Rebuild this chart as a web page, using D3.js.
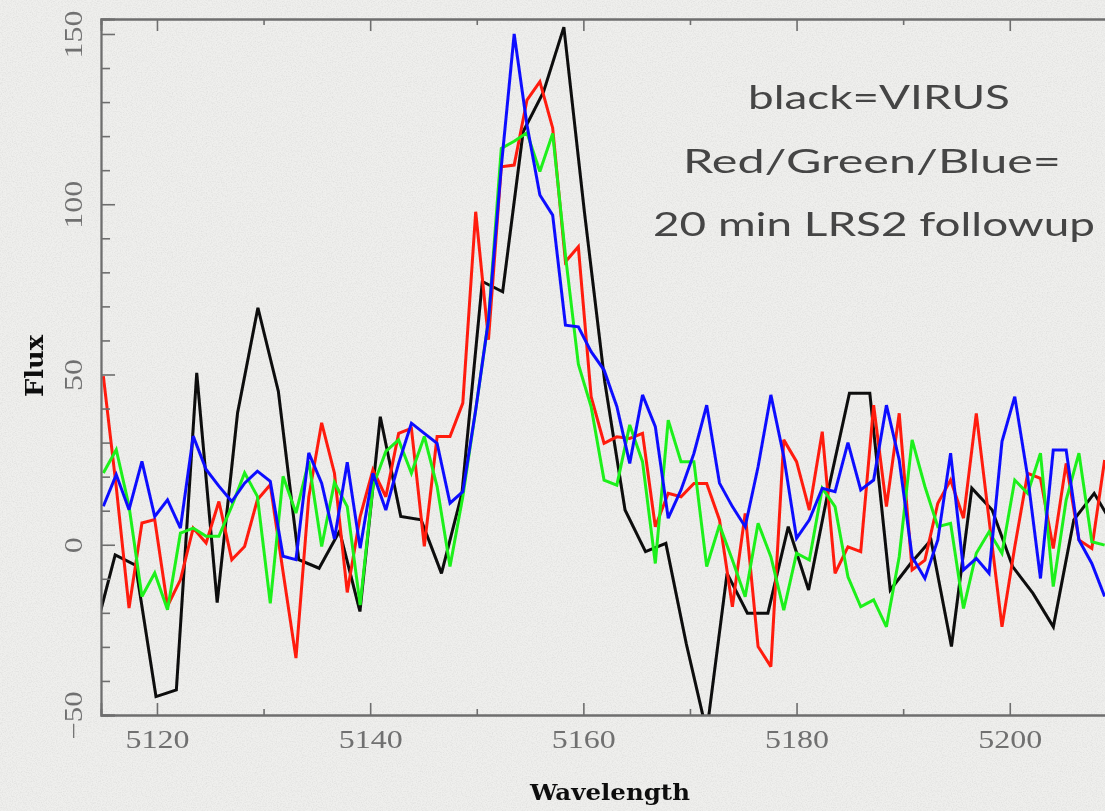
<!DOCTYPE html>
<html>
<head>
<meta charset="utf-8">
<script src="https://cdn.jsdelivr.net/npm/d3@7"></script>
<style>
  html, body { margin: 0; padding: 0; background: #efefed; }
  svg { display: block; }
</style>
</head>
<body>
<svg id="chart" width="1105" height="811"></svg>
<script>
// VIRUS spectrum (black)
const virusWave = [5114.17,5116.08,5117.99,5119.91,5121.82,5123.73,5125.65,5127.56,5129.47,5131.39,
  5133.30,5135.21,5137.13,5139.04,5140.95,5142.87,5144.78,5146.69,5148.61,5150.52,
  5152.43,5154.35,5156.26,5158.17,5160.09,5162.00,5163.91,5165.83,5167.74,5169.65,
  5171.57,5173.48,5175.39,5177.31,5179.22,5181.13,5183.05,5184.96,5186.87,5188.79,
  5190.70,5192.61,5194.53,5196.44,5198.35,5200.27,5202.18,5204.09,5206.01,5207.92,5209.83];
const virusFlux = [-26,-3,-6,-44.6,-42.6,50.5,-17,38.7,69.6,45,
  -4.4,-6.9,4,-19.6,37.6,8.3,7.3,-8.4,15.1,77.3,
  74.3,121.3,133,152,98,48,10.2,-2,0.4,-29,
  -55,-8.4,-20.1,-20.1,5.3,-13.3,17.1,44.5,44.5,-13.3,
  -5.5,1.4,-29.9,16.6,10.2,-6.4,-14.3,-24.1,7.3,15.1,5];

// LRS2 follow-up spectra (red / green / blue) on a common wavelength grid
const lrs2Wave = [5114.97,5116.18,5117.38,5118.59,5119.79,5120.99,5122.20,5123.40,5124.61,5125.81,
  5127.02,5128.22,5129.42,5130.63,5131.83,5133.04,5134.24,5135.45,5136.65,5137.85,
  5139.06,5140.26,5141.47,5142.67,5143.87,5145.08,5146.28,5147.49,5148.69,5149.90,
  5151.10,5152.30,5153.51,5154.71,5155.92,5157.12,5158.32,5159.53,5160.73,5161.94,
  5163.14,5164.35,5165.55,5166.75,5167.96,5169.16,5170.37,5171.57,5172.77,5173.98,
  5175.18,5176.39,5177.59,5178.80,5180.00,5181.20,5182.41,5183.61,5184.82,5186.02,
  5187.23,5188.43,5189.63,5190.84,5192.04,5193.25,5194.45,5195.66,5196.86,5198.06,
  5199.27,5200.47,5201.68,5202.88,5204.08,5205.29,5206.49,5207.70,5208.90];
const redFlux = [49.5,17,-18.6,6.4,7.4,-18,-10.3,4.9,0.5,12.7,
  -4.4,-0.5,13.2,17.6,-8,-33.3,14,35.8,21,-14,
  8.3,22,14.1,32.7,34.2,-0.5,31.8,31.8,41.6,97.8,
  60.2,111,111.5,130.6,136,122.4,83.1,87.5,43.5,29.8,
  31.7,31.2,32.7,5.3,15.1,14.1,18,18,7.3,-18.2,
  9.2,-29.9,-35.8,30.8,24.4,10.2,33.2,-8.4,-0.6,-2,
  41,11.2,38.6,-7.4,-4.5,12.2,19,7.8,38.6,7.3,
  -24.1,-0.6,21,19.5,-1.1,23.9,1.4,-1.1,24.9];
const greenFlux = [21.1,27.9,11.3,-15.2,-8.3,-19.1,3.4,4.9,2.5,2.5,
  11.3,21.1,14.2,-17.2,20.1,9.3,24.5,-0.5,18.3,11.2,
  -17.7,17.1,27.4,30.8,21,31.8,17.1,-6.4,14.1,39.6,
  66,116.4,118.5,121,109.6,120.8,85,53,40.5,19,
  17.5,35.2,24.4,-5.5,36.6,24.4,24.4,-6.4,5.8,-4.5,
  -15.3,6.3,-3.5,-19.2,-2.5,-4.5,16.6,11.2,-9.4,-18.2,
  -16.2,-24.1,-3.5,30.8,17.1,5.3,6.3,-18.7,-2.5,3.8,
  -2.5,19,15.1,26.9,-12.3,13.1,26.9,0.9,-0.1];
const blueFlux = [11.3,20.6,10.3,24.5,8.3,13.2,4.9,31.9,22.1,17.2,
  12.7,18.1,21.6,18.6,-3.4,-4.4,27,18.1,1.7,24.2,
  -1,21,10.2,23.9,35.7,32.7,29.8,12.2,15.6,39.6,
  66,111,150,123.3,102.7,96.8,64.5,64,56.7,51.3,
  40.6,23.9,44,34.7,7.8,16.1,26.8,41,18.1,11.2,
  5.3,22.9,44,25.9,1.9,7.3,16.6,15.6,30,16.1,
  19,41,24.9,-3.5,-9.9,1.4,26.9,-7.4,-4,-8.4,
  30.3,43.5,20,-9.9,27.8,27.8,1.4,-5.5,-15.2];

// Axis ticks
const xMajorTicks = [5120, 5140, 5160, 5180, 5200];
const xMinorTicks = [5130, 5150, 5170, 5190, 5210];
const yMajorTicks = [-50, 0, 50, 100, 150];
const yMinorTicks = [-40, -30, -20, -10, 10, 20, 30, 40, 60, 70, 80, 90, 110, 120, 130, 140];

const annotation = ["black=VIRUS", "Red/Green/Blue=", "20 min LRS2 followup"];

const series = [
  { wave: virusWave, flux: virusFlux, color: "#0a0a0a" },
  { wave: lrs2Wave, flux: redFlux, color: "#ff1a10" },
  { wave: lrs2Wave, flux: greenFlux, color: "#1ff01a" },
  { wave: lrs2Wave, flux: blueFlux, color: "#1010ff" }
];

const frame = { left: 101, right: 1159, top: 19, bottom: 715 };

const x = d3.scaleLinear().domain([5114.75, 5214]).range([frame.left, frame.right]);
const y = d3.scaleLinear().domain([-50, 154.4]).range([frame.bottom, frame.top]);

const svg = d3.select("#chart");
const defs = svg.append("defs");

// paper grain
const grain = defs.append("filter").attr("id", "grain").attr("x", 0).attr("y", 0).attr("width", 1).attr("height", 1);
grain.append("feTurbulence").attr("type", "fractalNoise").attr("baseFrequency", 0.8).attr("numOctaves", 2).attr("seed", 3);
grain.append("feColorMatrix").attr("type", "matrix")
  .attr("values", "0 0 0 0 0.3  0 0 0 0 0.3  0 0 0 0 0.3  0 0 0 -0.9 0.55");

const soft = defs.append("filter").attr("id", "soft");
soft.append("feGaussianBlur").attr("stdDeviation", 0.55);

defs.append("clipPath").attr("id", "plotClip")
  .append("rect")
  .attr("x", frame.left).attr("y", frame.top)
  .attr("width", frame.right - frame.left).attr("height", frame.bottom - frame.top);

svg.append("rect").attr("width", 1105).attr("height", 811).attr("fill", "#efefed");
svg.append("rect").attr("width", 1105).attr("height", 811).attr("filter", "url(#grain)").attr("opacity", 0.35);

const g = svg.append("g").attr("filter", "url(#soft)");

// spectra
const line = d3.line().x(d => x(d[0])).y(d => y(d[1]));
const lines = g.append("g").attr("clip-path", "url(#plotClip)");
series.forEach(s => {
  lines.append("path")
    .datum(s.wave.map((w, i) => [w, s.flux[i]]))
    .attr("fill", "none")
    .attr("stroke", s.color)
    .attr("stroke-width", 3)
    .attr("stroke-linejoin", "miter")
    .attr("stroke-miterlimit", 3)
    .attr("d", line);
});

const axisColor = "#6e6e6e";
const labelFont = "'Liberation Serif', 'DejaVu Serif', serif";

function styleAxis(sel) {
  sel.select(".domain").attr("stroke", axisColor).attr("stroke-width", 1.8);
  sel.selectAll(".tick line").attr("stroke", axisColor).attr("stroke-width", 1.6);
  sel.selectAll("text").attr("fill", "#707070").attr("font-family", labelFont).attr("font-size", 25);
}

// bottom axis: major with labels, minor without
const bottomMajor = g.append("g").attr("transform", `translate(0,${frame.bottom})`)
  .call(d3.axisBottom(x).tickValues(xMajorTicks).tickSize(-12).tickPadding(15).tickFormat(d3.format("d")));
styleAxis(bottomMajor);
bottomMajor.selectAll("text").attr("textLength", 64).attr("lengthAdjust", "spacingAndGlyphs");
const bottomMinor = g.append("g").attr("transform", `translate(0,${frame.bottom})`)
  .call(d3.axisBottom(x).tickValues(xMinorTicks).tickSize(-6).tickFormat(""));
styleAxis(bottomMinor);

// top axis
const topMajor = g.append("g").attr("transform", `translate(0,${frame.top})`)
  .call(d3.axisTop(x).tickValues(xMajorTicks).tickSize(-12).tickFormat(""));
styleAxis(topMajor);
const topMinor = g.append("g").attr("transform", `translate(0,${frame.top})`)
  .call(d3.axisTop(x).tickValues(xMinorTicks).tickSize(-6).tickFormat(""));
styleAxis(topMinor);

// left axis with rotated labels
const leftMajor = g.append("g").attr("transform", `translate(${frame.left},0)`)
  .call(d3.axisLeft(y).tickValues(yMajorTicks).tickSize(-14).tickFormat(d3.format("d")));
styleAxis(leftMajor);
leftMajor.selectAll(".tick text")
  .attr("x", 0).attr("dy", 0)
  .attr("text-anchor", "middle")
  .attr("transform", "translate(-19,0) rotate(-90)")
  .each(function (d) {
    const n = String(d).length;
    d3.select(this).attr("textLength", n * 16).attr("lengthAdjust", "spacingAndGlyphs");
  });
const leftMinor = g.append("g").attr("transform", `translate(${frame.left},0)`)
  .call(d3.axisLeft(y).tickValues(yMinorTicks).tickSize(-9).tickFormat(""));
styleAxis(leftMinor);

// axis titles
g.append("text")
  .attr("x", 610).attr("y", 800)
  .attr("text-anchor", "middle")
  .attr("font-family", "'DejaVu Serif', serif")
  .attr("font-weight", "bold")
  .attr("font-size", 23)
  .attr("fill", "#111")
  .attr("textLength", 160).attr("lengthAdjust", "spacingAndGlyphs")
  .text("Wavelength");

g.append("text")
  .attr("transform", "translate(43,366) rotate(-90)")
  .attr("text-anchor", "middle")
  .attr("font-family", "'DejaVu Serif', serif")
  .attr("font-weight", "bold")
  .attr("font-size", 25)
  .attr("fill", "#111")
  .attr("textLength", 62).attr("lengthAdjust", "spacingAndGlyphs")
  .text("Flux");

// annotation
const noteLayout = [
  { cx: 879, base: 109, width: 262 },
  { cx: 872, base: 173, width: 378 },
  { cx: 874, base: 236, width: 442 }
];
annotation.forEach((t, i) => {
  g.append("text")
    .attr("x", noteLayout[i].cx).attr("y", noteLayout[i].base)
    .attr("text-anchor", "middle")
    .attr("font-family", "Lato, 'Open Sans', sans-serif")
    .attr("font-size", 33)
    .attr("fill", "#444")
    .attr("textLength", noteLayout[i].width).attr("lengthAdjust", "spacingAndGlyphs")
    .text(t);
});
</script>
</body>
</html>
